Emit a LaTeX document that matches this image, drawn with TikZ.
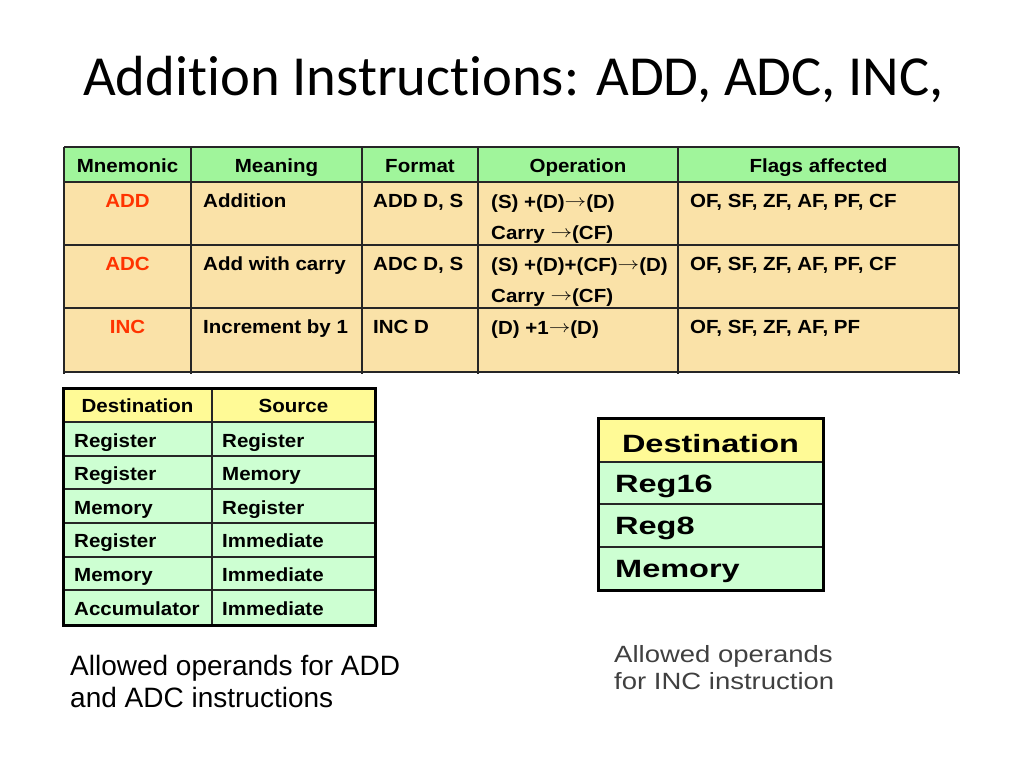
\documentclass[tikz,border=0pt]{standalone}
\usepackage{fontspec}
\setmainfont{Liberation Sans}
\newfontfamily\titlefont[Ligatures=NoCommon]{Carlito}
\newfontfamily\cellsans[FakeStretch=1.08]{Liberation Sans}
\newfontfamily\widesans[FakeStretch=1.3]{Liberation Sans}
\newfontfamily\capsans[FakeStretch=1.17]{Liberation Sans}
\definecolor{hdrgreen}{RGB}{160,245,155}
\definecolor{bodytan}{RGB}{250,226,168}
\definecolor{hdryellow}{RGB}{255,250,150}
\definecolor{bodygreen}{RGB}{205,255,210}
\definecolor{mnemred}{RGB}{255,51,0}
\definecolor{capgray}{RGB}{64,64,64}
\newcommand{\toarr}{\raisebox{1.5pt}{\scalebox{1.25}[1]{${\rightarrow}$}}}
\tikzset{
    txt/.style={inner sep=0pt, font=\cellsans\bfseries\fontsize{19}{19}\selectfont},
    hd/.style={txt, anchor=base},
    lt/.style={txt, anchor=base west},
    mnem/.style={txt, anchor=base, text=mnemred},
    bigtxt/.style={inner sep=0pt, font=\widesans\bfseries\fontsize{25}{25}\selectfont},
    rule/.style={line width=1.4pt, draw=black!85},
    frame/.style={line width=3pt, draw=black}
}
\begin{document}
\begin{tikzpicture}[x=1pt, y=-1pt]

        \useasboundingbox (0,0) rectangle (1024,768);

        \node [anchor=base west, inner sep=0pt, font=\titlefont\fontsize{56.6}{56.6}\selectfont] (title) at (83,95) {Addition Instructions: ADD, ADC, INC,};

        % instruction table
        \fill [hdrgreen] (64,147) rectangle (959,182);
        \fill [bodytan] (64,182) rectangle (959,372);
        \foreach \x in {64,191,362,478,678,959}
            \draw [rule] (\x,147) -- (\x,374);
        \foreach \y in {147,182,245,308,372}
            \draw [rule] (64,\y) -- (959,\y);

        \node [hd] (hmnem) at (127.5,172) {Mnemonic};
        \node [hd] (hmean) at (276.5,172) {Meaning};
        \node [hd] (hfmt) at (420,172) {Format};
        \node [hd] (hop) at (578,172) {Operation};
        \node [hd] (hflag) at (818.5,172) {Flags affected};

        \node [mnem] (add) at (127.5,207) {ADD};
        \node [lt] (addmean) at (203,207) {Addition};
        \node [lt] (addfmt) at (373,207) {ADD D, S};
        \node [lt] (addop) at (491,208) {(S) +(D)\toarr(D)};
        \node [lt] (addcy) at (491,239) {Carry \toarr(CF)};
        \node [lt] (addflag) at (690,207) {OF, SF, ZF, AF, PF, CF};

        \node [mnem] (adc) at (127.5,270) {ADC};
        \node [lt] (adcmean) at (203,270) {Add with carry};
        \node [lt] (adcfmt) at (373,270) {ADC D, S};
        \node [lt] (adcop) at (491,271) {(S) +(D)+(CF)\toarr(D)};
        \node [lt] (adccy) at (491,302) {Carry \toarr(CF)};
        \node [lt] (adcflag) at (690,270) {OF, SF, ZF, AF, PF, CF};

        \node [mnem] (inc) at (127.5,333) {INC};
        \node [lt] (incmean) at (203,333) {Increment by 1};
        \node [lt] (incfmt) at (373,333) {INC D};
        \node [lt] (incop) at (491,334) {(D) +1\toarr(D)};
        \node [lt] (incflag) at (690,333) {OF, SF, ZF, AF, PF};

        % operands for ADD and ADC
        \fill [hdryellow] (63,388) rectangle (375,422);
        \fill [bodygreen] (63,422) rectangle (375,625);
        \foreach \y in {422,456,489,523,557,590}
            \draw [rule] (63,\y) -- (375,\y);
        \draw [rule] (212,388) -- (212,625);
        \draw [frame] (63,388) rectangle (375,625);

        \node [hd] (hdest) at (137.5,412) {Destination};
        \node [hd] (hsrc) at (293.5,412) {Source};
        \foreach \d/\s [count=\i] in {Register/Register, Register/Memory, Memory/Register,
                Register/Immediate, Memory/Immediate, Accumulator/Immediate} {
            \node [lt] (dest\i) at (74,413.5+33.6*\i) {\d};
            \node [lt] (src\i) at (222,413.5+33.6*\i) {\s};
        }

        \node [anchor=base west, align=left, inner sep=0pt, font=\fontsize{28}{32}\selectfont] (addcap) at (70,707) {Allowed operands for ADD\\and ADC instructions};

        % operands for INC
        \fill [hdryellow] (598,418) rectangle (823,462);
        \fill [bodygreen] (598,462) rectangle (823,590);
        \foreach \y in {462,504,547}
            \draw [rule] (598,\y) -- (823,\y);
        \draw [frame] (598,418) rectangle (823,590);

        \node [bigtxt, anchor=base] (incdest) at (710.5,452) {Destination};
        \node [bigtxt, anchor=base west] (reg16) at (615,492) {Reg16};
        \node [bigtxt, anchor=base west] (reg8) at (615,534) {Reg8};
        \node [bigtxt, anchor=base west] (mem) at (615,577) {Memory};

        \node [anchor=base west, align=left, inner sep=0pt, text=capgray, font=\capsans\fontsize{23.5}{27}\selectfont] (inccap) at (614,689) {Allowed operands\\for INC instruction};

    \end{tikzpicture}
\end{document}
